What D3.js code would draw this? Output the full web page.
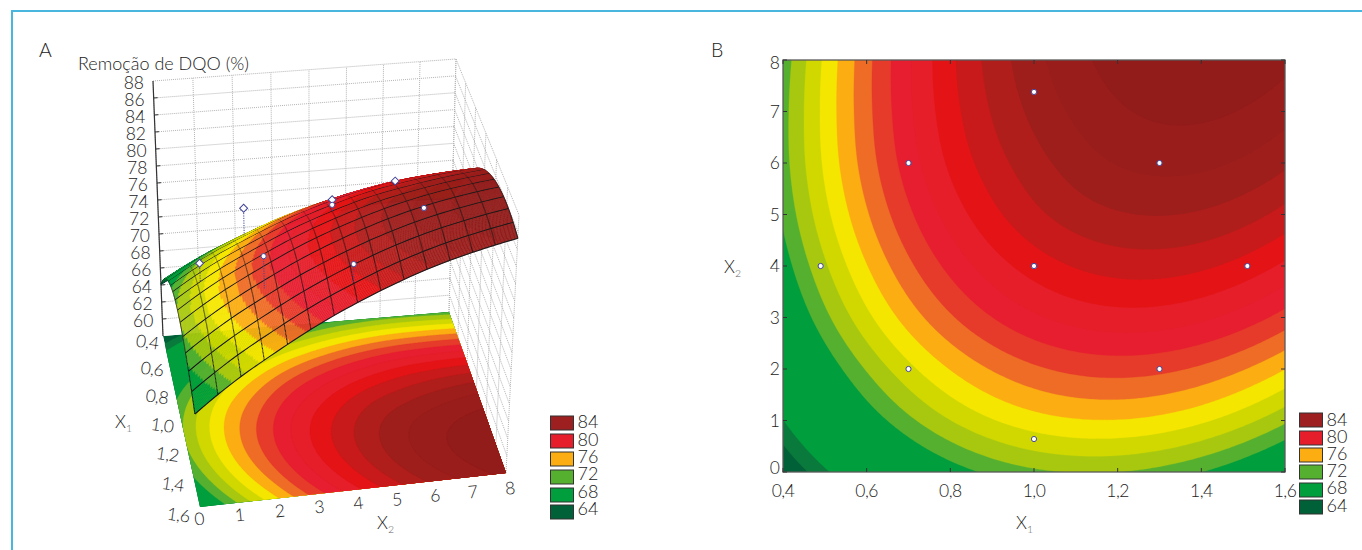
<!DOCTYPE html>
<html><head><meta charset="utf-8">
<script src="https://cdnjs.cloudflare.com/ajax/libs/d3/7.8.5/d3.min.js"></script>
<style>
html,body{margin:0;padding:0;background:#fff}
svg{display:block}
text{font-family:Lato,"Open Sans",sans-serif;font-weight:300;fill:#222}
</style></head><body>
<svg id="c" width="1362" height="550"></svg>
<script>
// ---------- data ----------
const x1Ticks = [0.4,0.6,0.8,1.0,1.2,1.4,1.6];
const x2Ticks = [0,1,2,3,4,5,6,7,8];
const zTicks = [60,62,64,66,68,70,72,74,76,78,80,82,84,86,88];
// removal (%) estimated at each x2 row (0..8) and x1 column (0.4..1.6)
const zRow0 = [64.07,67.82,70.40,71.79,72.00,71.02,68.86];
const zRow1 = [66.26,70.21,72.98,74.56,74.95,74.17,72.19];
const zRow2 = [67.95,72.09,75.04,76.81,77.40,76.80,75.02];
const zRow3 = [69.39,73.72,76.86,78.82,79.60,79.19,77.59];
const zRow4 = [70.44,74.95,78.29,80.44,81.40,81.18,79.78];
const zRow5 = [71.18,75.88,79.40,81.74,82.90,82.87,81.65];
const zRow6 = [71.57,76.47,80.18,82.60,84.05,84.21,83.19];
const zRow7 = [71.61,76.69,80.60,83.25,84.85,85.20,84.36];
const zRow8 = [71.40,76.68,80.77,83.68,85.40,85.94,85.29];
const zRows = [zRow0,zRow1,zRow2,zRow3,zRow4,zRow5,zRow6,zRow7,zRow8];
const bandLevels = [65.3,66.3,71,72,73,74,75,76,77,78,79,80,81,82,83,84,85];
const bandColors = ["#006138","#0a7a3c","#009e3c","#55b030","#a8c810","#d0d800","#f5e600","#fbad12","#ee6c26","#e63a2a","#e61e30","#e51e2a","#e41416","#c81a1a","#b01e1c","#9e1e1c","#981d1b","#911c1a"];
const legendLabels = ["84","80","76","72","68","64"];
const legendColors = ["#9e1f1f","#e61e2c","#fbad12","#55b030","#009e3c","#006138"];
const ptX1 = [0.49,0.70,1.30,0.70,1.30,1.00,1.00,1.00,1.51,1.00];
const ptX2 = [4.00,2.00,2.00,6.00,6.00,0.64,4.00,4.00,4.00,7.38];
const ptZ  = [71.0,76.9,81.0,78.6,84.8,75.8,81.8,81.2,82.7,83.3];
const ptHollow = [0,1,0,1,0,1,1,0,0,0];

// ---------- response lookup on the read table ----------
function cr(a,b,c,d,t){return 0.5*((2*b)+(c-a)*t+(2*a-5*b+4*c-d)*t*t+(3*b-a-3*c+d)*t*t*t);}
function rowAt(row,x1){
  const u=(x1-0.4)/0.2,i=Math.max(0,Math.min(row.length-2,Math.floor(u))),t=u-i;
  const g=k=>k<0?3*row[0]-3*row[1]+row[2]:k>=row.length?3*row[row.length-1]-3*row[row.length-2]+row[row.length-3]:row[k];
  return cr(g(i-1),g(i),g(i+1),g(i+2),t);
}
function zAt(x1,x2){
  const n=zRows.length,i=Math.max(0,Math.min(n-2,Math.floor(x2))),t=x2-i;
  const g=k=>{
    if(k<0)return 3*rowAt(zRows[0],x1)-3*rowAt(zRows[1],x1)+rowAt(zRows[2],x1);
    if(k>=n)return 3*rowAt(zRows[n-1],x1)-3*rowAt(zRows[n-2],x1)+rowAt(zRows[n-3],x1);
    return rowAt(zRows[k],x1);
  };
  return cr(g(i-1),g(i),g(i+1),g(i+2),t);
}
const bandColor = d3.scaleThreshold().domain(bandLevels).range(bandColors);

// fine sampling for band outlines
const NX=145,NY=193;
const gridVals=new Array(NX*NY);
for(let j=0;j<NY;j++)for(let i=0;i<NX;i++)
  gridVals[j*NX+i]=zAt(0.4+1.2*i/(NX-1),8*j/(NY-1));
const contourGen=d3.contours().size([NX,NY]).smooth(true).thresholds(bandLevels);
const bandShapes=contourGen(gridVals);

const svg=d3.select("#c");
// frame
svg.append("line").attr("x1",11).attr("x2",1362).attr("y1",11).attr("y2",11).attr("stroke","#49b6dd").attr("stroke-width",2);
svg.append("line").attr("x1",12).attr("x2",12).attr("y1",10).attr("y2",550).attr("stroke","#49b6dd").attr("stroke-width",2);

function xLabel(g,x,y,idx,fs){
  const t=g.append("text").attr("x",x).attr("y",y).style("font-size",fs+"px");
  t.append("tspan").text("X");
  t.append("tspan").attr("dy",4).style("font-size",(fs*0.6)+"px").style("fill","#666").text(idx);
}

// ---------- panel B ----------
const xB=d3.scaleLinear().domain([0.4,1.6]).range([783,1285]);
const yB=d3.scaleLinear().domain([0,8]).range([472,60]);
const gB=svg.append("g");
const defs=svg.append("defs");
defs.append("clipPath").attr("id","clipB").append("rect").attr("x",783).attr("y",60).attr("width",502).attr("height",412);
const toB=d3.geoTransform({point(x,y){
  this.stream.point(xB(0.4+1.2*(x-0.5)/(NX-1)),yB(8*(y-0.5)/(NY-1)));
}});
const pathB=d3.geoPath(toB);
const plotB=gB.append("g").attr("clip-path","url(#clipB)");
plotB.append("rect").attr("x",783).attr("y",60).attr("width",502).attr("height",412).attr("fill",bandColors[0]);
plotB.selectAll("path").data(bandShapes).join("path").attr("d",pathB)
  .attr("fill",(d,i)=>bandColors[i+1]).attr("stroke",(d,i)=>bandColors[i+1]).attr("stroke-width",0.3);
gB.append("rect").attr("x",783).attr("y",60).attr("width",502).attr("height",412).attr("fill","none").attr("stroke","#5a5a5a").attr("stroke-width",1.3);
const tickStyle=s=>s.attr("stroke","#333").attr("stroke-width",1);
gB.selectAll(".tb").data(x1Ticks).join("line").attr("class","tb").attr("x1",d=>xB(d)).attr("x2",d=>xB(d)).attr("y1",472).attr("y2",468).call(tickStyle);
gB.selectAll(".tt").data(x1Ticks).join("line").attr("class","tt").attr("x1",d=>xB(d)).attr("x2",d=>xB(d)).attr("y1",60).attr("y2",64).call(tickStyle);
gB.selectAll(".tl").data(x2Ticks).join("line").attr("class","tl").attr("x1",783).attr("x2",787).attr("y1",d=>yB(d)).attr("y2",d=>yB(d)).call(tickStyle);
gB.selectAll(".tr").data(x2Ticks).join("line").attr("class","tr").attr("x1",1285).attr("x2",1281).attr("y1",d=>yB(d)).attr("y2",d=>yB(d)).call(tickStyle);
const fmt=d=>d3.format(".1f")(d).replace(".",",");
gB.selectAll(".lx").data(x1Ticks).join("text").attr("class","lx").attr("x",d=>xB(d)).attr("y",497).attr("text-anchor","middle").style("font-size","17.5px").style("letter-spacing","-0.5px").text(fmt);
gB.selectAll(".ly").data(x2Ticks).join("text").attr("class","ly").attr("x",780).attr("y",d=>yB(d)+(d===0?2:d===8?9:6)).attr("text-anchor","end").style("font-size","17.5px").text(d=>d);
xLabel(gB,1016,529,"1",17.5);
xLabel(gB,724,273,"2",17.5);
gB.selectAll("circle").data(ptX1.map((d,i)=>i)).join("circle")
  .attr("cx",i=>xB(ptX1[i])).attr("cy",i=>yB(ptX2[i])).attr("r",2.6).attr("fill","#fff").attr("stroke","#43459a").attr("stroke-width",1);
svg.append("text").attr("x",711).attr("y",57).style("font-size","19.5px").text("B");

function legend(x,ys,lys){
  const g=svg.append("g");
  g.selectAll("rect").data(legendColors).join("rect").attr("x",x).attr("y",(d,i)=>ys[i]).attr("width",23).attr("height",14)
    .attr("fill",d=>d).attr("stroke","#333").attr("stroke-width",1);
  g.selectAll("text").data(legendLabels).join("text").attr("x",x+27).attr("y",(d,i)=>lys[i]+6.5).style("font-size","18px").text(d=>d);
}
legend(1299.5,[413,431,448,465,483,500],[419,436,453,470,487,505]);
legend(550.5,[416,434,452,470,488,505],[421,439,456,473,491,508]);

// ---------- panel A ----------
// corners of the floor and of the box top on screen
const floorQuad=[[163,336],[449,312],[506,473],[200,507]]; // (x1 low,x2 low),(x1 low,x2 high),(x1 high,x2 high),(x1 high,x2 low)
const topQuad=[[153,81],[456,59],[519,215],[186,250]];
function homography(q){
  const [[x0,y0],[x1,y1],[x2,y2],[x3,y3]]=q;
  const dx1=x1-x2,dx2=x3-x2,sx=x0-x1+x2-x3,dy1=y1-y2,dy2=y3-y2,sy=y0-y1+y2-y3;
  const den=dx1*dy2-dx2*dy1;
  const g=(sx*dy2-dx2*sy)/den,h=(dx1*sy-sx*dy1)/den;
  const a=x1-x0+g*x1,b=x3-x0+h*x3,c=x0,d=y1-y0+g*y1,e=y3-y0+h*y3,f=y0;
  return (u,v)=>{const w=g*u+h*v+1;return [(a*u+b*v+c)/w,(d*u+e*v+f)/w];};
}
const hBase=homography(floorQuad),hTop=homography(topQuad);
const uS=d3.scaleLinear().domain([0,8]).range([0,1]);   // x2 -> u
const vS=d3.scaleLinear().domain([0.4,1.6]).range([0,1]); // x1 -> v
const hS=d3.scaleLinear().domain([58,88]).range([0,1]);   // z -> height fraction
function proj(x1,x2,z){
  const u=uS(x2),v=vS(x1),b=hBase(u,v),t=hTop(u,v),k=hS(z);
  return [b[0]+(t[0]-b[0])*k,b[1]+(t[1]-b[1])*k];
}
const gA=svg.append("g");
// dotted walls
const wall=gA.append("g").attr("fill","none").attr("stroke","#b4b4b4").attr("stroke-width",1).attr("stroke-dasharray","1 1");
const line=d3.line();
zTicks.forEach(z=>{
  wall.append("path").attr("d",line([proj(0.4,0,z),proj(0.4,8,z)]));
  wall.append("path").attr("d",line([proj(0.4,8,z),proj(1.6,8,z)]));
});
x2Ticks.forEach(x=>wall.append("path").attr("d",line([proj(0.4,x,58),proj(0.4,x,88)])));
x1Ticks.forEach(x=>wall.append("path").attr("d",line([proj(x,8,58),proj(x,8,88)])));
// floor
defs.append("clipPath").attr("id","clipF").append("polygon").attr("points",floorQuad.map(p=>p.join(",")).join(" "));
const toF=d3.geoTransform({point(x,y){
  const p=hBase(uS(8*(y-0.5)/(NY-1)),vS(0.4+1.2*(x-0.5)/(NX-1)));
  this.stream.point(p[0],p[1]);
}});
const pathF=d3.geoPath(toF);
const floor=gA.append("g").attr("clip-path","url(#clipF)");
floor.append("polygon").attr("points",floorQuad.map(p=>p.join(",")).join(" ")).attr("fill",bandColors[0]);
floor.selectAll("path").data(bandShapes).join("path").attr("d",pathF)
  .attr("fill",(d,i)=>bandColors[i+1]).attr("stroke",(d,i)=>bandColors[i+1]).attr("stroke-width",0.3);
// z axis
const axisA=gA.append("g");
axisA.append("path").attr("d",line([proj(0.4,0,58),proj(0.4,0,88)])).attr("stroke","#333").attr("stroke-width",1.2).attr("fill","none");
axisA.selectAll("line").data(zTicks.slice(0,-1)).join("line").each(function(z){
  const p=proj(0.4,0,z);
  d3.select(this).attr("x1",p[0]).attr("x2",p[0]+4).attr("y1",p[1]).attr("y2",p[1]-0.3).attr("stroke","#333");
});
axisA.selectAll("text").data(zTicks).join("text").attr("text-anchor","end").style("font-size","17.5px")
  .attr("x",z=>proj(0.4,0,z)[0]-9).attr("y",z=>proj(0.4,0,z)[1]+8).text(z=>z);
gA.selectAll(".l1").data(x1Ticks).join("text").attr("class","l1").attr("text-anchor","middle").style("font-size","17.5px").style("letter-spacing","-0.5px")
  .attr("transform",d=>{const p=proj(d,0,58),f=vS(d);return `translate(${p[0]-16.5-6*f},${p[1]+12+2*f}) rotate(8)`;}).text(fmt);
gA.selectAll(".l2").data(x2Ticks).join("text").attr("class","l2").attr("text-anchor","middle").style("font-size","17.5px")
  .attr("transform",d=>{const p=proj(1.6,d,58);return `translate(${p[0]+d*0.6},${p[1]+18+d*0.4}) rotate(-6)`;}).text(d=>d);
xLabel(gA,115,428,"1",17.5);
xLabel(gA,377,529,"2",17.5);
svg.append("text").attr("x",39).attr("y",57).style("font-size","19.5px").text("A");
svg.append("text").attr("x",78).attr("y",70).style("font-size","18px").text("Remoção de DQO (%)");

// points that lie below the surface are drawn before it
function drawPoint(group,i){
  const x=ptX1[i],y=ptX2[i],p=proj(x,y,ptZ[i]),s=proj(x,y,zAt(x,y));
  group.append("path").attr("d",line([p,s])).attr("stroke","#43459a").attr("stroke-dasharray","1.2 1.2").attr("fill","none");
  if(ptHollow[i]){
    group.append("rect").attr("x",-2.8).attr("y",-2.8).attr("width",5.6).attr("height",5.6)
      .attr("transform",`translate(${p[0]},${p[1]}) rotate(45)`).attr("fill","#fff").attr("stroke","#43459a").attr("stroke-width",1);
  } else {
    group.append("circle").attr("cx",p[0]).attr("cy",p[1]).attr("r",2.6).attr("fill","#fff").attr("stroke","#43459a").attr("stroke-width",1);
  }
}
const under=gA.append("g");
ptX1.forEach((x,i)=>{if(ptZ[i]<zAt(x,ptX2[i]))drawPoint(under,i);});

// surface, painted from the back (low x1) to the front
const cellsX1=14,cellsX2=14,subX1=16,subX2=12;
const ops=[];
const nI=cellsX1*subX1,nJ=cellsX2*subX2;
const X1=i=>0.4+1.2*i/nI, X2=j=>8*j/nJ;
const P=(i,j)=>proj(X1(i),X2(j),zAt(X1(i),X2(j)));
const edge=i=>{let pts=[];for(let j=0;j<=nJ;j+=3)pts.push(P(i,j));return {d:line(pts),mesh:true};};
for(let i=0;i<nI;i++){
  let runStart=0,cur=bandColor(zAt((X1(i)+X1(i+1))/2,(X2(0)+X2(1))/2));
  for(let j=1;j<=nJ;j++){
    const c=j<nJ?bandColor(zAt((X1(i)+X1(i+1))/2,(X2(j)+X2(j+1))/2)):null;
    if(c!==cur){
      const pts=[];
      for(let k=runStart;k<=j;k++)pts.push(P(i,k));
      for(let k=j;k>=runStart;k--)pts.push(P(i+1,k));
      ops.push({d:line(pts)+"Z",fill:cur});
      runStart=j;cur=c;
    }
  }
  let segs="";
  for(let m=0;m<=cellsX2;m++){const j=m*subX2;segs+=line([P(i,j),P(i+1,j)]);}
  ops.push({d:segs,mesh:true});
  if(i%subX1===0)ops.push(edge(i));
  if((i+1)===nI)ops.push(edge(nI));
}
const surf=gA.append("g");
surf.selectAll("path").data(ops).join("path").attr("d",d=>d.d)
  .attr("fill",d=>d.mesh?"none":d.fill).attr("stroke",d=>d.mesh?"#1a1a1a":d.fill)
  .attr("stroke-width",d=>d.mesh?1.1:0.5);
const marks=gA.append("g");
ptX1.forEach((x,i)=>{if(ptZ[i]>=zAt(x,ptX2[i]))drawPoint(marks,i);});
</script>
</body></html>
